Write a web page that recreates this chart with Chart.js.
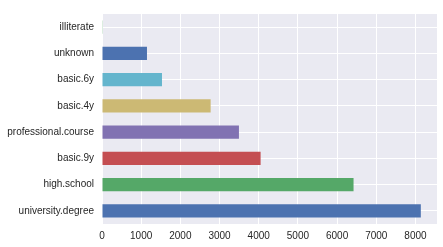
<!DOCTYPE html>
<html>
<head>
<meta charset="utf-8">
<script src="https://cdn.jsdelivr.net/npm/chart.js@4"></script>
<style>
  html, body { margin: 0; padding: 0; background: #fff; }
  #wrap { width: 443px; height: 247px; }
</style>
</head>
<body>
<div id="wrap"><canvas id="eduChart" width="443" height="247"></canvas></div>
<script>
// education counts, top to bottom as drawn
const categories = ["illiterate", "unknown", "basic.6y", "basic.4y", "professional.course", "basic.9y", "high.school", "university.degree"];
const counts = [18, 1148, 1531, 2773, 3495, 4048, 6420, 8137];
const barColors = ["#55A868", "#4C72B0", "#64B5CD", "#CCB974", "#8172B2", "#C44E52", "#55A868", "#4C72B0"];
const xTicks = [0, 1000, 2000, 3000, 4000, 5000, 6000, 7000, 8000];

// paint the seaborn-ish grey panel behind the plot
const panelBg = {
    id: "panelBg",
    beforeDraw(chart) {
        const a = chart.chartArea;
        const ctx = chart.ctx;
        ctx.save();
        ctx.fillStyle = "#EAEAF2";
        ctx.fillRect(a.left, a.top, a.right - a.left, a.bottom - a.top);
        ctx.restore();
    }
};

let ctx = document.getElementById("eduChart").getContext("2d");
new Chart(ctx, {
    type: "bar",
    data: {
        labels: categories,
        datasets: [{
            data: counts,
            backgroundColor: barColors,
            barPercentage: 0.5,
            categoryPercentage: 1.0,
            borderWidth: 0
        }]
    },
    options: {
        indexAxis: "y",
        responsive: false,
        animation: false,
        layout: { padding: { left: 0, right: 6, top: 5, bottom: 0 } },
        plugins: { legend: { display: false }, tooltip: { enabled: false } },
        scales: {
            x: {
                min: 0,
                max: 8550,
                afterBuildTicks: scale => { scale.ticks = xTicks.map(v => ({ value: v })); },
                afterFit: scale => { scale.height = 23; },
                grid: { color: "#FFFFFF", lineWidth: 1, drawTicks: false },
                border: { display: false },
                ticks: {
                    color: "#262626",
                    padding: 6,
                    callback: v => String(v),
                    font: { family: "Liberation Sans, Arial, sans-serif", size: 10 }
                }
            },
            y: {
                afterFit: scale => { scale.width = 102; },
                grid: { color: "#FFFFFF", lineWidth: 1, offset: false, drawTicks: false },
                border: { display: false },
                ticks: {
                    color: "#262626",
                    padding: 8,
                    font: { family: "Liberation Sans, Arial, sans-serif", size: 10 }
                }
            }
        }
    },
    plugins: [panelBg]
});
</script>
</body>
</html>
